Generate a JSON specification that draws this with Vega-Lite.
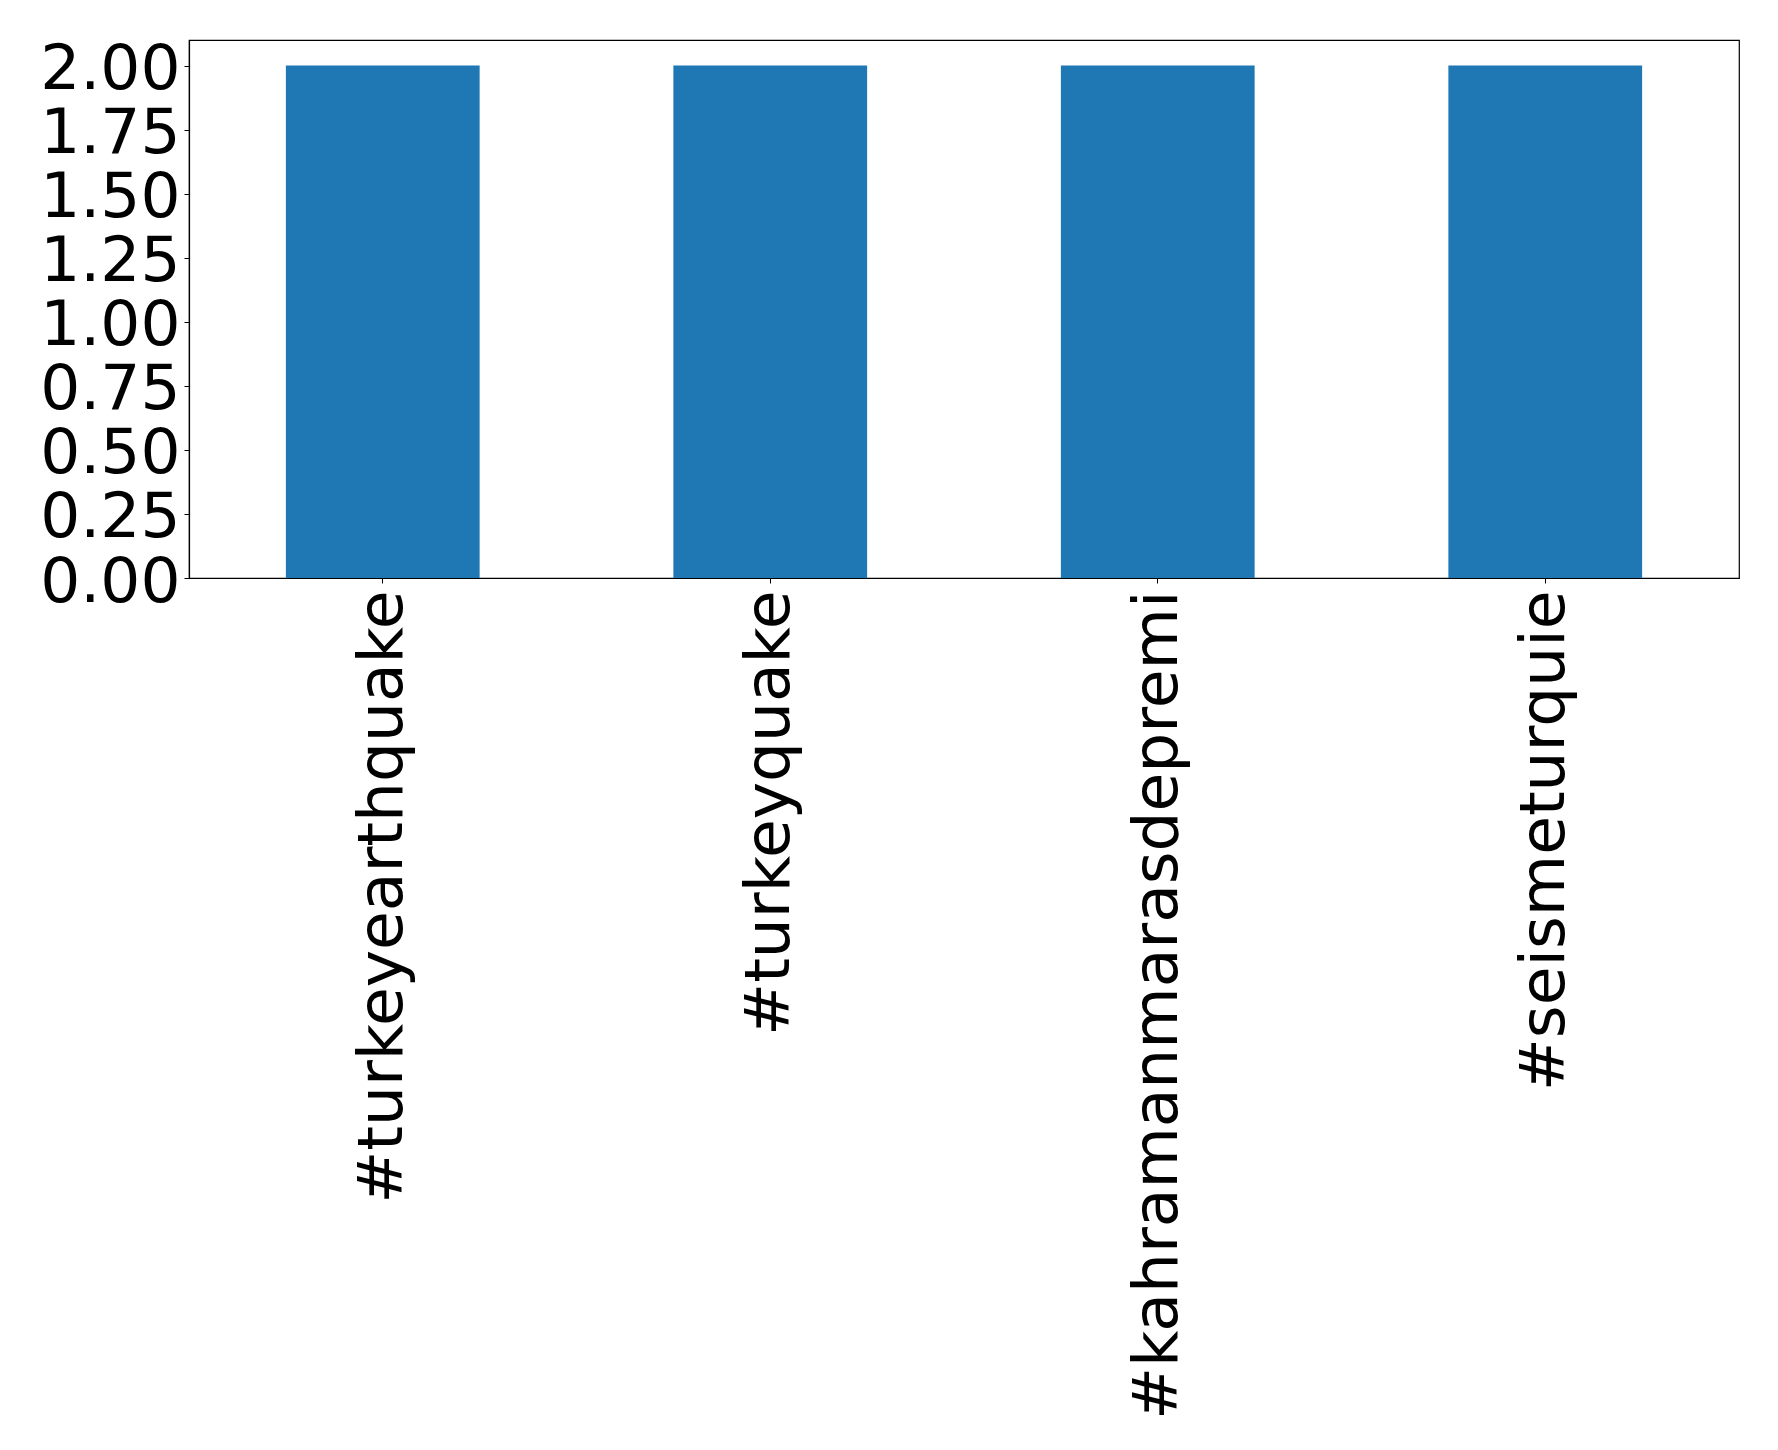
{
  "$schema": "https://vega.github.io/schema/vega-lite/v6.json",
  "autosize": {"type": "none"},
  "padding": {"left": 189, "top": 40, "right": 39, "bottom": 872},
  "width": 1550,
  "height": 538,
  "background": "white",
  "data": {"values": [
    {"hashtag": "#turkeyearthquake", "count": 2},
    {"hashtag": "#turkeyquake", "count": 2},
    {"hashtag": "#kahramanmarasdepremi", "count": 2},
    {"hashtag": "#seismeturquie", "count": 2}
  ]},
  "mark": {"type": "bar", "color": "#1f77b4"},
  "encoding": {
    "x": {
      "field": "hashtag", "type": "nominal", "sort": null,
      "scale": {"paddingInner": 0.5, "paddingOuter": 0.25},
      "axis": {"title": null, "labelAngle": 270, "labelFontSize": 63, "labelFont": "DejaVu Sans",
               "labelColor": "black", "labelPadding": 7, "tickColor": "black", "tickSize": 5,
               "domainColor": "black", "domainWidth": 1.2, "labelLimit": 1000, "labelOverlap": false}
    },
    "y": {
      "field": "count", "type": "quantitative",
      "scale": {"domain": [0, 2.1], "nice": false, "zero": true},
      "axis": {"title": null, "values": [0, 0.25, 0.5, 0.75, 1, 1.25, 1.5, 1.75, 2], "format": ".2f",
               "labelFontSize": 63, "labelFont": "DejaVu Sans", "labelColor": "black", "labelPadding": 4,
               "labelOffset": 4,
               "tickColor": "black", "tickSize": 5, "domainColor": "black", "domainWidth": 1.2,
               "grid": false, "labelOverlap": false, "labelFlush": false}
    }
  },
  "config": {"view": {"stroke": "black", "strokeWidth": 1.2}}
}
